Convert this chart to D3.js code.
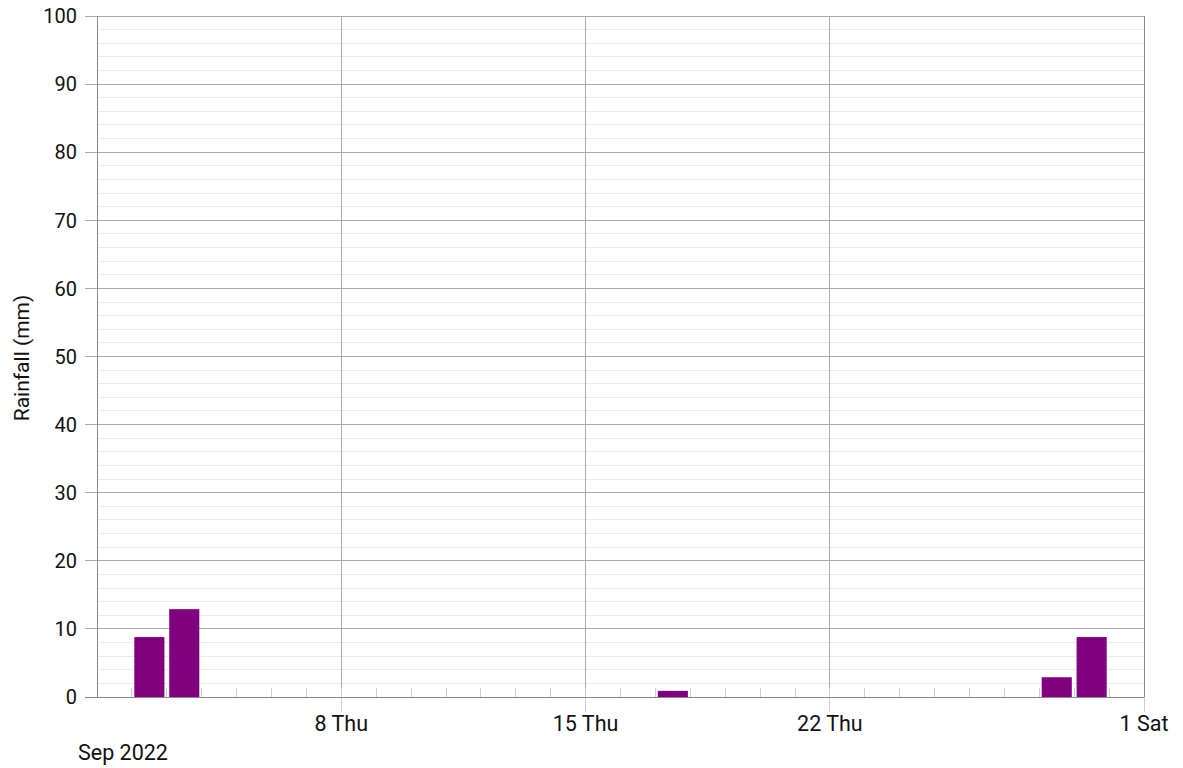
<!DOCTYPE html>
<html><head><meta charset="utf-8">
<script src="https://cdn.jsdelivr.net/npm/d3@7"></script>
<style>body{margin:0;background:#fff;} text{font-family:Roboto,"Liberation Sans",Arial,sans-serif;fill:#111;}</style>
</head><body>
<svg id="c" width="1183" height="768"></svg>
<script>
const dates = ["2022-09-02","2022-09-03","2022-09-17","2022-09-28","2022-09-29"];
const rainfall = [8.8, 12.9, 0.9, 2.9, 8.8];
const yTicks = [0,10,20,30,40,50,60,70,80,90,100];
const xTickDates = ["2022-09-08","2022-09-15","2022-09-22","2022-10-01"];
const xTickLabels = ["8 Thu","15 Thu","22 Thu","1 Sat"];

const svg = d3.select("#c");
const L=97, R=1144, T=16, B=697;
const parse = d3.utcParse("%Y-%m-%d");
const x = d3.scaleUtc().domain([parse("2022-09-01"), parse("2022-10-01")]).range([L,R]);
const y = d3.scaleLinear().domain([0,100]).range([B,T]);

const minor = d3.range(2,100,2).filter(v=>v%10!==0);
svg.append("g").selectAll("line").data(minor).join("line")
  .attr("x1",L).attr("x2",R).attr("y1",d=>y(d)).attr("y2",d=>y(d))
  .attr("stroke","#ebebeb").attr("stroke-width",1).attr("shape-rendering","crispEdges");
svg.append("g").selectAll("line").data(yTicks.slice(1)).join("line")
  .attr("x1",L-12).attr("x2",R).attr("y1",d=>y(d)).attr("y2",d=>y(d))
  .attr("stroke","#aaaaaa").attr("stroke-width",1).attr("shape-rendering","crispEdges");
const xt = xTickDates.map(parse);
svg.append("g").selectAll("line").data(xt.slice(0,3)).join("line")
  .attr("x1",d=>x(d)).attr("x2",d=>x(d)).attr("y1",T).attr("y2",B)
  .attr("stroke","#aaaaaa").attr("stroke-width",1).attr("shape-rendering","crispEdges");
svg.append("line").attr("x1",R).attr("x2",R).attr("y1",T).attr("y2",B)
  .attr("stroke","#888").attr("shape-rendering","crispEdges");

const days = d3.utcDay.range(parse("2022-09-02"), parse("2022-10-01"));
svg.append("g").selectAll("line").data(days).join("line")
  .attr("x1",d=>x(d)).attr("x2",d=>x(d)).attr("y1",B-9).attr("y2",B)
  .attr("stroke","#cccccc").attr("shape-rendering","crispEdges");

const dayW = x(parse("2022-09-02")) - x(parse("2022-09-01"));
svg.append("g").selectAll("rect").data(dates).join("rect")
  .attr("x",(d)=>x(parse(d))+2.4)
  .attr("width",dayW-4.8)
  .attr("y",(d,i)=>y(rainfall[i]))
  .attr("height",(d,i)=>B-y(rainfall[i]))
  .attr("fill","#800080");

svg.append("g").selectAll("line").data(xt).join("line")
  .attr("x1",d=>x(d)).attr("x2",d=>x(d)).attr("y1",B).attr("y2",B+15)
  .attr("stroke","#cccccc").attr("shape-rendering","crispEdges");
svg.append("line").attr("x1",L-12).attr("x2",R).attr("y1",B).attr("y2",B)
  .attr("stroke","#888").attr("shape-rendering","crispEdges");
svg.append("line").attr("x1",L).attr("x2",L).attr("y1",T).attr("y2",B)
  .attr("stroke","#888").attr("shape-rendering","crispEdges");

svg.append("g").selectAll("text").data(yTicks).join("text")
  .attr("x",77).attr("y",d=>y(d)).attr("dy","0.36em").attr("text-anchor","end")
  .attr("font-size",20).text(d=>d);
svg.append("g").selectAll("text").data(xt).join("text")
  .attr("x",d=>x(d)).attr("y",731).attr("text-anchor","middle")
  .attr("font-size",21.5).text((d,i)=>xTickLabels[i]);
svg.append("text").attr("x",78).attr("y",760).attr("font-size",21.5).text("Sep 2022");
svg.append("text").attr("transform","translate(29,358) rotate(-90)").attr("text-anchor","middle")
  .attr("font-size",21).text("Rainfall (mm)");
</script>
</body></html>
